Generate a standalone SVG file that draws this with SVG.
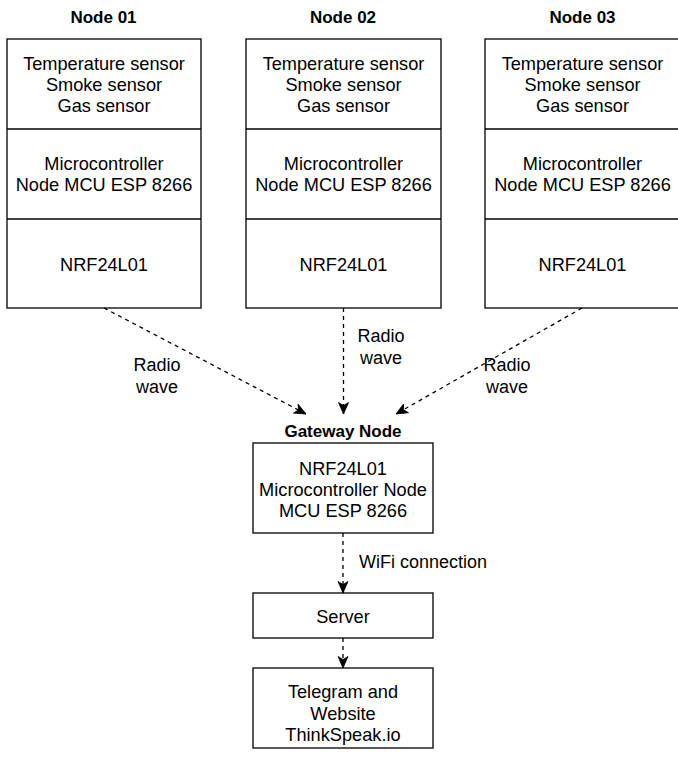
<svg xmlns="http://www.w3.org/2000/svg" width="678" height="760" viewBox="0 0 678 760">
<style>
  .box { fill: #fff; stroke: #000; stroke-width: 1.3; }
  .div { stroke: #000; stroke-width: 1.3; fill: none; }
  .t { font-family: "Liberation Sans", Arial, sans-serif; font-size: 18.2px; fill: #000; text-anchor: middle; }
  .title { font-family: "Liberation Sans", Arial, sans-serif; font-size: 17px; font-weight: bold; fill: #000; text-anchor: middle; }
  .edge { fill: none; stroke: #000; stroke-width: 1.3; stroke-dasharray: 4 4; marker-end: url(#arrow); }
  .lbl { font-family: "Liberation Sans", Arial, sans-serif; font-size: 18px; fill: #000; text-anchor: middle; }
</style>
<defs>
  <marker id="arrow" markerUnits="userSpaceOnUse" markerWidth="14" markerHeight="14" viewBox="0 0 14 14" refX="12.5" refY="7" orient="auto">
    <path d="M1,2 L12.5,7 L1,12 L4,7 Z" fill="#000" stroke="#000" stroke-width="0.8"/>
  </marker>
</defs>
<rect width="678" height="760" fill="#fff"/>

<g id="node01">
  <text class="title" x="103.5" y="23">Node 01</text>
  <rect class="box" x="7" y="39" width="194" height="269"/>
  <line class="div" x1="7" y1="129" x2="201" y2="129"/>
  <line class="div" x1="7" y1="219" x2="201" y2="219"/>
  <text class="t" x="104" y="69.5">Temperature sensor</text>
  <text class="t" x="104" y="90.5">Smoke sensor</text>
  <text class="t" x="104" y="111.5">Gas sensor</text>
  <text class="t" x="104" y="170">Microcontroller</text>
  <text class="t" x="104" y="191">Node MCU ESP 8266</text>
  <text class="t" x="104" y="270.5">NRF24L01</text>
</g>

<g id="node02">
  <text class="title" x="343" y="23">Node 02</text>
  <rect class="box" x="246" y="39" width="195" height="269"/>
  <line class="div" x1="246" y1="129" x2="441" y2="129"/>
  <line class="div" x1="246" y1="219" x2="441" y2="219"/>
  <text class="t" x="343.5" y="69.5">Temperature sensor</text>
  <text class="t" x="343.5" y="90.5">Smoke sensor</text>
  <text class="t" x="343.5" y="111.5">Gas sensor</text>
  <text class="t" x="343.5" y="170">Microcontroller</text>
  <text class="t" x="343.5" y="191">Node MCU ESP 8266</text>
  <text class="t" x="343.5" y="270.5">NRF24L01</text>
</g>

<g id="node03">
  <text class="title" x="582.5" y="23">Node 03</text>
  <rect class="box" x="485" y="39" width="195" height="269"/>
  <line class="div" x1="485" y1="129" x2="680" y2="129"/>
  <line class="div" x1="485" y1="219" x2="680" y2="219"/>
  <text class="t" x="582.5" y="69.5">Temperature sensor</text>
  <text class="t" x="582.5" y="90.5">Smoke sensor</text>
  <text class="t" x="582.5" y="111.5">Gas sensor</text>
  <text class="t" x="582.5" y="170">Microcontroller</text>
  <text class="t" x="582.5" y="191">Node MCU ESP 8266</text>
  <text class="t" x="582.5" y="270.5">NRF24L01</text>
</g>

<g id="gateway">
  <text class="title" x="343" y="437">Gateway Node</text>
  <rect class="box" x="253" y="443" width="180" height="90"/>
  <text class="t" x="343" y="475">NRF24L01</text>
  <text class="t" x="343" y="496">Microcontroller Node</text>
  <text class="t" x="343" y="517">MCU ESP 8266</text>
</g>

<g id="server">
  <rect class="box" x="253" y="593" width="180" height="45"/>
  <text class="t" x="343" y="623">Server</text>
</g>

<g id="telegram">
  <rect class="box" x="253" y="668" width="180" height="80"/>
  <text class="t" x="343" y="698">Telegram and</text>
  <text class="t" x="343" y="719.5">Website</text>
  <text class="t" x="343" y="741">ThinkSpeak.io</text>
</g>

<g id="connectors">
  <path class="edge" d="M104,308 L306,414"/>
  <path class="edge" d="M343.5,308 L343.5,414"/>
  <path class="edge" d="M582,308 L396,414"/>
  <path class="edge" d="M343,533 L343,593"/>
  <path class="edge" d="M343,638 L343,668"/>
  <text class="lbl" x="157" y="371">Radio</text>
  <text class="lbl" x="157" y="393">wave</text>
  <text class="lbl" x="381" y="342">Radio</text>
  <text class="lbl" x="381" y="364">wave</text>
  <text class="lbl" x="507" y="371">Radio</text>
  <text class="lbl" x="507" y="393">wave</text>
  <text class="lbl" x="359" y="568" style="text-anchor:start">WiFi connection</text>
</g>
</svg>
